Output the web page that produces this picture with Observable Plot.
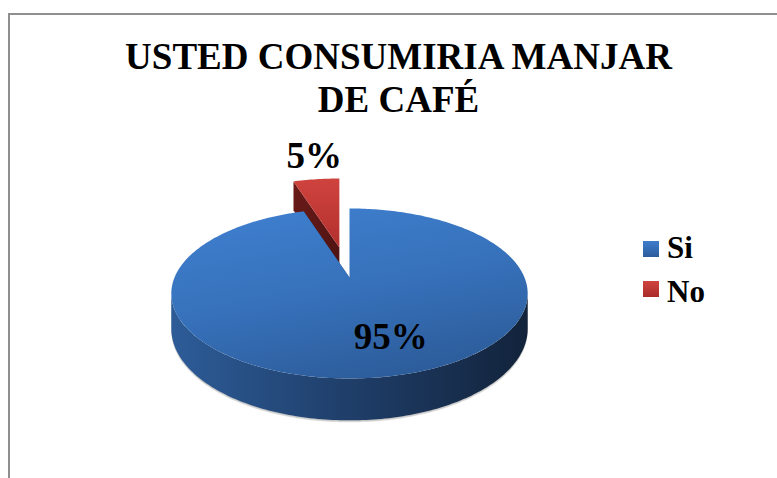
<!DOCTYPE html>
<html><head><meta charset="utf-8">
<script src="https://cdn.jsdelivr.net/npm/d3@7"></script>
<script src="https://cdn.jsdelivr.net/npm/@observablehq/plot@0.6"></script>
<style>
body{margin:0;background:#fff;}
#wrap{position:relative;width:777px;height:478px;overflow:hidden;background:#fff;font-family:"Liberation Serif","Times New Roman",serif;}
#frame{position:absolute;left:8px;top:13px;width:900px;height:600px;border-left:2px solid #8f8f8f;border-top:2px solid #8f8f8f;}
#chart{position:absolute;left:0;top:0;}
#title{position:absolute;left:0;width:797px;top:35px;text-align:center;font-weight:bold;font-size:37px;line-height:43px;color:#000;font-family:"Liberation Serif","Times New Roman",serif;}
.lg-sw{position:absolute;left:643px;width:16px;height:16px;}
.lg-tx{position:absolute;left:667px;font-weight:bold;font-size:31px;line-height:44px;color:#000;font-family:"Liberation Serif","Times New Roman",serif;}
</style>
</head><body>
<div id="wrap">
  <div id="frame"></div>
  <div id="chart"></div>
  <div id="title">USTED CONSUMIRIA MANJAR<br>DE CAFÉ</div>
  <div id="legend"></div>
</div>
<script>
// ---- data ----
const categories = ["Si", "No"];
const values = [95, 5];
const labels = ["95%", "5%"];
const titleText = "USTED CONSUMIRIA MANJAR DE CAFÉ";

// ---- layout / style (not data) ----
const W = 777, H = 478;
const P = {cx: 349, cy: 277, A: 175, B: 82, k: 0.188, D: 34, explode: 0.37};
const explodedCat = "No";
const palette = {
  Si: {top: "url(#blueTop)", side: "url(#blueSide)", cut: "#1d3a63", sw: "linear-gradient(#3d7dcc,#2c5c9c)"},
  No: {top: "url(#redTop)", side: "#7a201d", cut: "url(#redCut)", sw: "linear-gradient(#d0443f,#a92c29)"}
};
const labelLayout = {Si: {dA: -9, r: 0.67}, No: {dA: 1.6, r: 1.415}};
const deg = Math.PI / 180;

function proj(r, th, z, off) {
  const u = r * Math.sin(th), v = r * Math.cos(th);
  const s = 1 / (1 + P.k * v);
  return {x: P.cx + P.A * u * s + off[0], y: P.cy - P.B * v * s + P.D * z * s + off[1]};
}
function arc(a0, a1, z, off) {
  const n = Math.max(2, Math.ceil(Math.abs(a1 - a0) / deg));
  return d3.range(n + 1).map(i => proj(1, a0 + (a1 - a0) * i / n, z, off));
}

const rows = categories.map((c, i) => ({cat: c, value: values[i], label: labels[i]}));
const arcs = d3.pie().sort(null).value(d => d.value)(rows);

const silL = Math.acos(-P.k), silR = 2 * Math.PI - Math.acos(-P.k);

const slices = arcs.map(a => {
  const mid = (a.startAngle + a.endAngle) / 2;
  const e = a.data.cat === explodedCat ? P.explode : 0;
  const off = [e * P.A * Math.sin(mid), -e * P.B * Math.cos(mid)];
  const top = [proj(0, 0, 0, off), ...arc(a.startAngle, a.endAngle, 0, off)];
  const cuts = [a.startAngle, a.endAngle].map(t => [proj(0, t, 0, off), proj(1, t, 0, off), proj(1, t, 1, off), proj(0, t, 1, off)]);
  const s0 = Math.max(a.startAngle, silL), s1 = Math.min(a.endAngle, silR);
  const side = s1 > s0 ? [...arc(s0, s1, 0, off), ...arc(s1, s0, 1, off)] : null;
  const L = labelLayout[a.data.cat];
  const lp = proj(L.r, mid + L.dA * deg, 0, off);
  return {cat: a.data.cat, label: a.data.label, exploded: e > 0, top, cuts, side, lp};
});

// painter's order: exploded (farther) slice first
const order = [...slices].sort((a, b) => (b.exploded ? 1 : 0) - (a.exploded ? 1 : 0));
const marks = [];
for (const s of order) {
  const pal = palette[s.cat];
  for (const c of s.cuts) marks.push(Plot.line(c, {x: "x", y: "y", fill: pal.cut, stroke: "none"}));
  if (s.side) {
    marks.push(Plot.line(s.side, {x: "x", y: "y", fill: "#9a9a9a", fillOpacity: 0.35, stroke: "none", dy: 2}));
    marks.push(Plot.line(s.side, {x: "x", y: "y", fill: "#b0b0b0", fillOpacity: 0.5, stroke: "none", dy: 1}));
    marks.push(Plot.line(s.side, {x: "x", y: "y", fill: pal.side, stroke: "none"}));
  }
  marks.push(Plot.line(s.top, {x: "x", y: "y", fill: pal.top, stroke: "none"}));
}
marks.push(Plot.text(slices, {x: d => d.lp.x, y: d => d.lp.y, text: "label", fontFamily: "Liberation Serif", fontWeight: "bold", fontSize: 37, fill: "#000", textAnchor: "middle", lineAnchor: "middle"}));

const plot = Plot.plot({
  width: W, height: H, margin: 0,
  x: {domain: [0, W], range: [0, W], axis: null},
  y: {domain: [0, H], range: [0, H], axis: null},
  style: {background: "transparent"},
  marks
});
d3.select(plot).insert("defs", ":first-child").html(`
  <linearGradient id="blueTop" x1="0.3" y1="0" x2="0.7" y2="1">
    <stop offset="0" stop-color="#3e7ecd"/><stop offset="0.5" stop-color="#3670b9"/><stop offset="1" stop-color="#2c5b98"/>
  </linearGradient>
  <linearGradient id="blueSide" x1="0" y1="0" x2="1" y2="0">
    <stop offset="0" stop-color="#2d5c98"/><stop offset="0.5" stop-color="#1f3e69"/><stop offset="1" stop-color="#12233b"/>
  </linearGradient>
  <linearGradient id="redTop" x1="0" y1="0" x2="0" y2="1">
    <stop offset="0" stop-color="#cf433e"/><stop offset="1" stop-color="#b3302d"/>
  </linearGradient>
  <linearGradient id="redCut" x1="0" y1="0" x2="1" y2="1">
    <stop offset="0" stop-color="#6b1b19"/><stop offset="1" stop-color="#4a1312"/>
  </linearGradient>`);
document.getElementById("chart").appendChild(plot);

// legend
const lg = document.getElementById("legend");
const swTops = [241, 281], txTops = [226, 270];
categories.forEach((c, i) => {
  const sw = document.createElement("div");
  sw.className = "lg-sw"; sw.style.top = swTops[i] + "px"; sw.style.background = palette[c].sw;
  lg.appendChild(sw);
  const tx = document.createElement("div");
  tx.className = "lg-tx"; tx.style.top = txTops[i] + "px"; tx.textContent = c;
  lg.appendChild(tx);
});
</script>
</body></html>
